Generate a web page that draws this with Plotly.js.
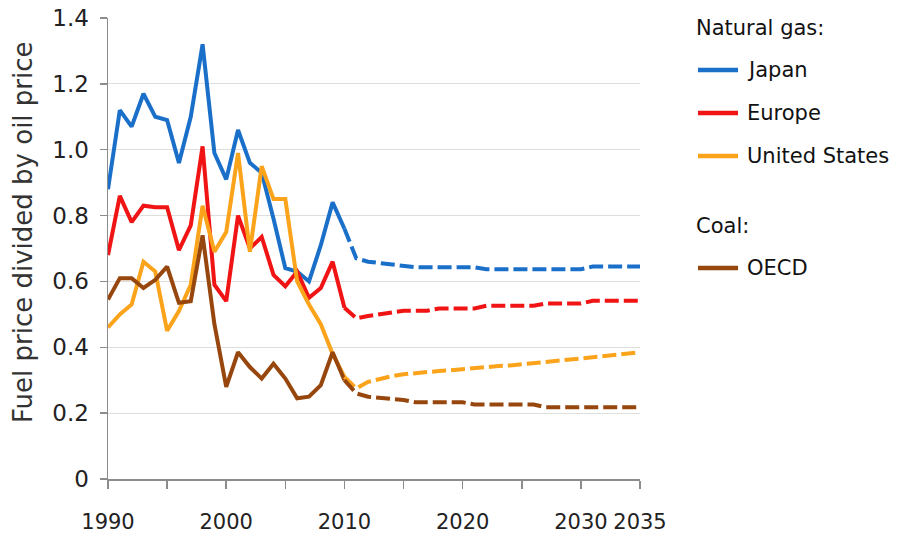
<!DOCTYPE html>
<html>
<head>
<meta charset="utf-8">
<script src="https://cdn.plot.ly/plotly-3.0.1.min.js"></script>
<style>
  html, body { margin: 0; padding: 0; background: #ffffff; }
  #chart { width: 899px; height: 541px; }
</style>
</head>
<body>
<div id="chart"></div>
<script>
// ---- Data ----
const histYears = [1990,1991,1992,1993,1994,1995,1996,1997,1998,1999,2000,2001,2002,2003,2004,2005,2006,2007,2008,2009,2010];
const projYears = [2010,2011,2012,2013,2014,2015,2016,2017,2018,2019,2020,2021,2022,2023,2024,2025,2026,2027,2028,2029,2030,2031,2032,2033,2034,2035];

const japanHist  = [0.88,1.12,1.07,1.17,1.10,1.09,0.96,1.10,1.32,0.99,0.91,1.06,0.96,0.93,0.79,0.64,0.63,0.60,0.71,0.84,0.76];
const europeHist = [0.68,0.86,0.78,0.83,0.825,0.825,0.695,0.77,1.01,0.59,0.54,0.80,0.70,0.735,0.62,0.585,0.63,0.55,0.58,0.66,0.52];
const usHist     = [0.46,0.50,0.53,0.66,0.63,0.45,0.51,0.59,0.83,0.69,0.75,0.99,0.69,0.95,0.85,0.85,0.60,0.53,0.47,0.38,0.31];
const oecdHist   = [0.545,0.61,0.61,0.58,0.605,0.645,0.535,0.54,0.74,0.47,0.28,0.385,0.34,0.305,0.35,0.305,0.245,0.25,0.285,0.385,0.30];

const japanProj  = [0.76,0.67,0.66,0.655,0.65,0.648,0.643,0.643,0.643,0.643,0.643,0.643,0.637,0.637,0.637,0.637,0.637,0.637,0.637,0.637,0.637,0.645,0.645,0.645,0.645,0.645];
const europeProj = [0.52,0.488,0.495,0.50,0.505,0.511,0.511,0.511,0.518,0.518,0.518,0.518,0.526,0.526,0.526,0.526,0.526,0.533,0.533,0.533,0.533,0.541,0.541,0.541,0.541,0.541];
const usProj     = [0.31,0.275,0.295,0.305,0.312,0.318,0.322,0.325,0.328,0.330,0.334,0.337,0.341,0.343,0.345,0.348,0.351,0.355,0.358,0.362,0.366,0.370,0.374,0.377,0.381,0.385];
const oecdProj   = [0.30,0.26,0.25,0.245,0.243,0.24,0.233,0.233,0.233,0.233,0.233,0.226,0.226,0.226,0.226,0.226,0.226,0.218,0.218,0.218,0.218,0.218,0.218,0.218,0.218,0.218];

const seriesNames = ["Japan","Europe","United States","OECD"];
const groupTitles = ["Natural gas:","Coal:"];

const xTickVals = [1990,1995,2000,2005,2010,2015,2020,2025,2030,2035];
const xTickText = ["1990","","2000","","2010","","2020","","2030","2035"];
const yTickVals = [0,0.2,0.4,0.6,0.8,1.0,1.2,1.4];
const yTickText = ["0","0.2","0.4","0.6","0.8","1.0","1.2","1.4"];
const yTitle = "Fuel price divided by oil price";

// ---- Styling ----
const colors = ["#1a6fc9","#f01414","#fba31a","#97470e"];
const FONT = "DejaVu Sans, Verdana, sans-serif";
const LW = 4;
const DASH = "14px,5px";

const hist = [japanHist, europeHist, usHist, oecdHist];
const proj = [japanProj, europeProj, usProj, oecdProj];

const traces = [];
for (let i = 0; i < 4; i++) {
  traces.push({
    x: histYears, y: hist[i], type: "scatter", mode: "lines",
    name: seriesNames[i], showlegend: false, hoverinfo: "skip",
    line: {color: colors[i], width: LW, shape: "linear"}
  });
}
for (let i = 0; i < 4; i++) {
  traces.push({
    x: projYears, y: proj[i], type: "scatter", mode: "lines",
    name: seriesNames[i] + " (projection)", showlegend: false, hoverinfo: "skip",
    line: {color: colors[i], width: LW, dash: DASH}
  });
}

// ---- Legend built from annotations + short line shapes (plot area: x 108..640, y 18..479) ----
const PL = 108, PW = 532, PB = 479, PH = 461;
const px = v => (v - PL) / PW;
const py = v => (PB - v) / PH;

const legendRows = [28, 70, 113, 156, 226, 268];
const legendEntries = [
  {kind: "title", text: groupTitles[0], y: legendRows[0]},
  {kind: "item", text: seriesNames[0], color: colors[0], y: legendRows[1]},
  {kind: "item", text: seriesNames[1], color: colors[1], y: legendRows[2]},
  {kind: "item", text: seriesNames[2], color: colors[2], y: legendRows[3]},
  {kind: "title", text: groupTitles[1], y: legendRows[4]},
  {kind: "item", text: seriesNames[3], color: colors[3], y: legendRows[5]}
];

const annotations = [];
const shapes = [];
legendEntries.forEach(e => {
  if (e.kind === "title") {
    annotations.push({xref: "paper", yref: "paper", x: px(694), y: py(e.y),
      xanchor: "left", yanchor: "middle", showarrow: false, text: e.text,
      font: {family: FONT, size: 21, color: "#111111"}});
  } else {
    shapes.push({type: "line", xref: "paper", yref: "paper",
      x0: px(698), x1: px(738), y0: py(e.y), y1: py(e.y),
      line: {color: e.color, width: 4.5}});
    annotations.push({xref: "paper", yref: "paper", x: px(745), y: py(e.y),
      xanchor: "left", yanchor: "middle", showarrow: false, text: e.text,
      font: {family: FONT, size: 21, color: "#111111"}});
  }
});

annotations.push({xref: "paper", yref: "paper", x: px(23), y: py(232),
  xanchor: "center", yanchor: "middle", showarrow: false, textangle: -90,
  text: yTitle, font: {family: FONT, size: 26, color: "#333333"}});

const layout = {
  width: 899, height: 541,
  margin: {l: 108, r: 259, t: 18, b: 62, pad: 0},
  paper_bgcolor: "#ffffff", plot_bgcolor: "#ffffff",
  showlegend: false,
  font: {family: FONT, color: "#222222"},
  xaxis: {
    range: [1990, 2035], tickmode: "array", tickvals: xTickVals, ticktext: xTickText,
    ticks: "outside", ticklen: 8, tickwidth: 1.5, tickcolor: "#8c8c8c",
    showline: true, linecolor: "#8c8c8c", linewidth: 1.5,
    showgrid: false, zeroline: false, tickangle: 0, automargin: false,
    tickfont: {family: FONT, size: 21, color: "#222222"},
    ticklabelstandoff: 15
  },
  yaxis: {
    range: [0, 1.4], tickmode: "array", tickvals: yTickVals, ticktext: yTickText,
    ticks: "outside", ticklen: 7, tickwidth: 1.5, tickcolor: "#8c8c8c",
    showline: true, linecolor: "#8c8c8c", linewidth: 1.5,
    showgrid: true, gridcolor: "#dedede", gridwidth: 1, zeroline: false,
    automargin: false,
    tickfont: {family: FONT, size: 23, color: "#222222"},
    ticklabelstandoff: 6
  },
  annotations: annotations,
  shapes: shapes
};

Plotly.newPlot("chart", traces, layout, {staticPlot: true, displayModeBar: false});
</script>
</body>
</html>
